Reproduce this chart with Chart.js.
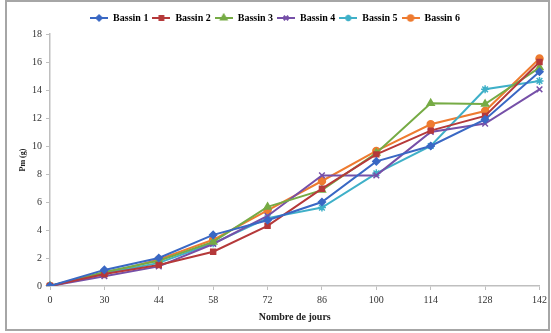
<!DOCTYPE html>
<html>
<head>
<meta charset="utf-8">
<script src="https://cdn.jsdelivr.net/npm/chart.js@4/dist/chart.umd.min.js"></script>
<style>
  html, body { margin: 0; padding: 0; background: #fff; }
  #wrap { position: relative; width: 551px; height: 333px; }
</style>
</head>
<body>
<div id="wrap"><canvas id="chart" width="551" height="333"></canvas></div>
<script>
// Days of measurement (x categories)
const jours = ['0', '30', '44', '58', '72', '86', '100', '114', '128', '142'];

// Mean weight (g) per pond
const bassin1 = [0, 1.15, 2.0, 3.65, 4.7, 6.0, 8.9, 10.0, 11.9, 15.3];
const bassin2 = [0, 0.85, 1.5, 2.45, 4.3, 6.95, 9.4, 11.1, 12.15, 16.0];
const bassin3 = [0, 1.0, 1.8, 3.15, 5.65, 6.85, 9.5, 13.05, 13.0, 15.6];
const bassin4 = [0, 0.7, 1.4, 3.0, 5.0, 7.9, 7.9, 11.0, 11.6, 14.05];
const bassin5 = [0, 0.9, 1.65, 3.05, 4.85, 5.6, 8.05, 10.0, 14.05, 14.65];
const bassin6 = [0, 0.85, 1.9, 3.3, 5.4, 7.5, 9.65, 11.55, 12.5, 16.25];

const yTicks = [0, 2, 4, 6, 8, 10, 12, 14, 16, 18];

const series = [
    { label: 'Bassin 1', data: bassin1, color: '#3a68c4', style: 'rectRot', r: 3.5 },
    { label: 'Bassin 2', data: bassin2, color: '#b5393a', style: 'rect', r: 3.5 },
    { label: 'Bassin 3', data: bassin3, color: '#76ab45', style: 'triangle', r: 4 },
    { label: 'Bassin 4', data: bassin4, color: '#7650a8', style: 'crossRot', r: 4 },
    { label: 'Bassin 5', data: bassin5, color: '#3fb0c8', style: 'star', r: 4 },
    { label: 'Bassin 6', data: bassin6, color: '#ee7b30', style: 'circle', r: 3.5 }
];

// Small canvas with line + marker, used as legend symbol
function legendSymbol(s) {
    const c = document.createElement('canvas');
    c.width = 18;
    c.height = 10;
    const ctx = c.getContext('2d');
    ctx.strokeStyle = s.color;
    ctx.fillStyle = s.color;
    ctx.lineWidth = 2;
    ctx.beginPath();
    ctx.moveTo(0, 5);
    ctx.lineTo(18, 5);
    ctx.stroke();
    Chart.helpers.drawPoint(ctx, { pointStyle: s.style, radius: s.r - 0.8, borderWidth: 1.5, rotation: 0 }, 9, 5);
    ctx.fill();
    return c;
}

// Grey frame around the whole picture, and legend nudged up a bit
const framePlugin = {
    id: 'frame',
    afterLayout(chart) {
        chart.legend.top -= 1;
        chart.legend.bottom -= 1;
    },
    afterDraw(chart) {
        const ctx = chart.ctx;
        ctx.save();
        ctx.strokeStyle = '#a6a6a6';
        ctx.lineWidth = 2;
        ctx.strokeRect(6, 1, 543, 329);
        ctx.restore();
    }
};

const serif = '"Liberation Serif", "Times New Roman", serif';

new Chart(document.getElementById('chart'), {
    type: 'line',
    data: {
        labels: jours,
        datasets: series.map(s => ({
            label: s.label,
            data: s.data,
            borderColor: s.color,
            backgroundColor: s.color,
            borderWidth: 2,
            pointStyle: s.style,
            pointRadius: s.r,
            pointBorderWidth: 1.5,
            tension: 0,
            fill: false
        }))
    },
    options: {
        responsive: false,
        animation: false,
        layout: { padding: { left: 10, right: 11, top: 10, bottom: 10 } },
        plugins: {
            tooltip: { enabled: false },
            legend: {
                position: 'top',
                labels: {
                    font: { family: serif, size: 10, weight: 'bold' },
                    color: '#333',
                    usePointStyle: true,
                    pointStyleWidth: 18,
                    padding: 4,
                    generateLabels(chart) {
                        return series.map((s, i) => ({
                            text: s.label,
                            pointStyle: legendSymbol(s),
                            fillStyle: s.color,
                            strokeStyle: s.color,
                            lineWidth: 0,
                            hidden: false,
                            datasetIndex: i
                        }));
                    }
                }
            }
        },
        scales: {
            x: {
                type: 'category',
                offset: false,
                grid: { display: true, drawOnChartArea: false, drawTicks: true, tickLength: 4, color: '#bfbfbf' },
                border: { display: true, color: '#bfbfbf', width: 1.5 },
                ticks: { font: { family: serif, size: 10 }, color: '#333', maxRotation: 0, padding: 4 },
                title: { display: true, text: 'Nombre de jours', font: { family: serif, size: 10, weight: 'bold' }, color: '#222', padding: { top: 2, bottom: 0 } },
                afterFit(scale) { scale.height = 37; }
            },
            y: {
                min: 0,
                max: 18,
                afterBuildTicks(scale) { scale.ticks = yTicks.map(v => ({ value: v })); },
                grid: { display: true, drawOnChartArea: false, drawTicks: true, tickLength: 4, color: '#bfbfbf' },
                border: { display: true, color: '#bfbfbf', width: 1.5 },
                ticks: { font: { family: serif, size: 10 }, color: '#333', padding: 4 },
                title: { display: true, text: 'Pm (g)', font: { family: serif, size: 8, weight: 'bold' }, color: '#222', padding: { top: 8, bottom: 0 } },
                afterFit(scale) { scale.width = 40; }
            }
        }
    },
    plugins: [framePlugin]
});
</script>
</body>
</html>
